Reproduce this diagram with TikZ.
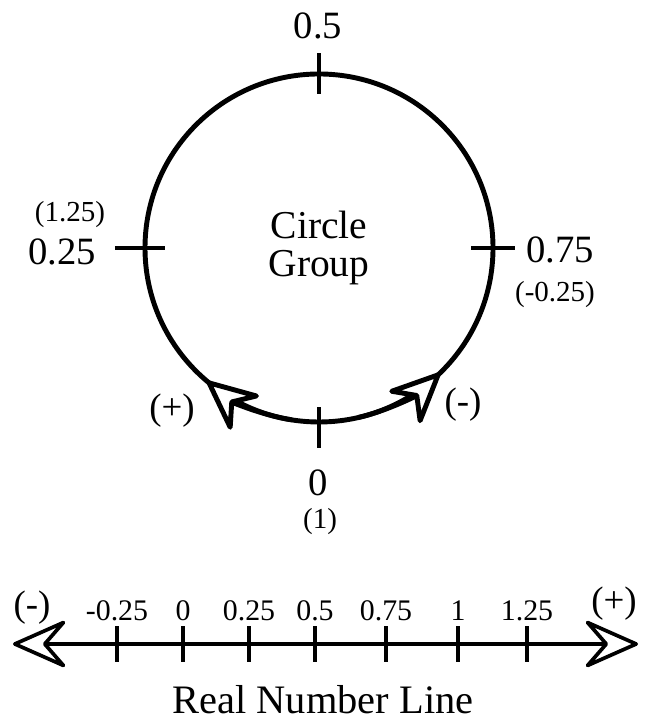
\documentclass[tikz,border=0pt]{standalone}
\usepackage{fontspec}
\setmainfont{Liberation Serif}
\usepackage{tikz}
\usetikzlibrary{arrows.meta, positioning, calc}

\tikzset{
    ring/.style={draw, circle, line width=2.8pt, minimum size=69.6mm, inner sep=0pt, outer sep=0pt, align=center, font=\fontsize{22.5}{25}\selectfont},
    tk/.style={line width=2.8pt},
    big/.style={font=\fontsize{22}{25}\selectfont, inner sep=0pt},
    small/.style={font=\fontsize{16.5}{18}\selectfont, inner sep=0pt},
    sign/.style={font=\fontsize{21}{23}\selectfont, inner sep=0pt},
    nllabel/.style={font=\fontsize{17}{18}\selectfont, inner sep=0pt},
    nlline/.style={line width=2.1pt},
    circarrow/.style={tk, -{Stealth[length=33pt, width=30pt, inset=11pt, fill=white, round=false]}},
    nlarrow/.style={nlline, {Stealth[length=34pt, width=30pt, inset=13pt, fill=white, round=false]}-{Stealth[length=34pt, width=30pt, inset=13pt, fill=white, round=false]}}
}

\begin{document}
\begin{tikzpicture}[x=0.2mm, y=0.2mm]
    \useasboundingbox (0,0) rectangle (647,723);

    % Circle group
    \node[ring] (grp) at (319,475) {Circle\\[-3pt]Group};

    % ticks on the circle
    \draw[tk] ($(grp.north)+(0,-20)$) -- ($(grp.north)+(0,21)$);
    \draw[tk] ($(grp.west)+(-30,0)$) -- ($(grp.west)+(20,0)$);
    \draw[tk] ($(grp.east)+(-22,0)$) -- ($(grp.east)+(22,0)$);
    \draw[tk] ($(grp.south)+(0,-26)$) -- ($(grp.south)+(0,15)$);

    % direction arrows
    \draw[circarrow] (grp.center) ++(261:174) arc[start angle=261, end angle=230, radius=174];
    \draw[circarrow] (grp.center) ++(283:174) arc[start angle=283, end angle=314, radius=174];

    % tick labels
    \node[big] (top) at (318,697) {0.5};
    \node[big] (lft) at (62,471) {0.25};
    \node[small] (lftalt) at (70,508) {(1.25)};
    \node[big] (rgt) at (560,473) {0.75};
    \node[small] (rgtalt) at (555,428) {(-0.25)};
    \node[big] (bot) at (318,240) {0};
    \node[small] (botalt) at (320,201) {(1)};
    \node[sign] (plus) at (172,312) {(+)};
    \node[sign] (minus) at (463,318) {(-)};

    % Real number line
    \coordinate (nlL) at (13,79);
    \coordinate (nlR) at (638,79);
    \draw[nlarrow] (nlL) -- (nlR);
    \foreach \v/\x in {-0.25/117, 0/183, 0.25/249, 0.5/315, 0.75/386, 1/458, 1.25/527} {
        \draw[nlline] (\x,61) -- (\x,97);
        \node[nllabel] (nl\x) at (\x,112) {\v};
    }
    \node[sign] (nlminus) at (32,115) {(-)};
    \node[sign] (nlplus) at (614,119) {(+)};
    \node[sign, font=\fontsize{23}{25}\selectfont] (nltitle) at (323,23) {Real Number Line};
\end{tikzpicture}
\end{document}
